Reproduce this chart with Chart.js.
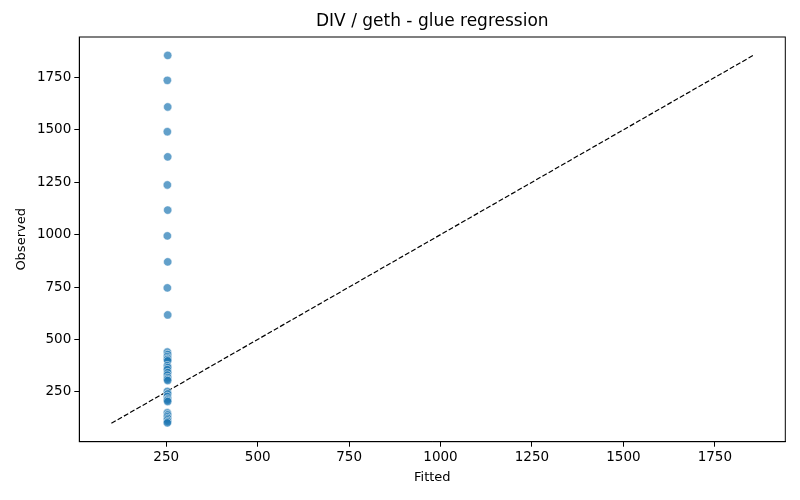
<!DOCTYPE html>
<html>
<head>
<meta charset="utf-8">
<script src="https://cdn.jsdelivr.net/npm/chart.js@4.4.0/dist/chart.umd.min.js"></script>
<style>
  html, body { margin: 0; padding: 0; background: #fff; }
  #wrap { width: 800px; height: 500px; }
</style>
</head>
<body>
<div id="wrap"><canvas id="chart" width="800" height="500"></canvas></div>
<script>
// ── Data ───────────────────────────────────────────
const chartTitle = 'DIV / geth - glue regression';
const fitted = [
  254, 253, 254, 253, 254, 253, 254, 253, 254, 253, 254,
  253, 254, 253, 254, 253, 254, 253, 254, 253, 254, 253, 254, 253, 254,
  253, 254, 253, 254, 253, 254,
  253, 254, 253, 254, 253, 254, 253
];
const observed = [
  1855, 1736, 1609, 1491, 1371, 1237, 1117, 994, 870, 746, 617,
  440, 428, 418, 410, 404, 398, 375, 366, 356, 342, 330, 318, 310, 304,
  252, 240, 228, 216, 210, 204,
  150, 140, 131, 123, 116, 108, 102
];
const identityLine = [100, 1855];
const tickVals = [250, 500, 750, 1000, 1250, 1500, 1750];
const axisMin = 12.25;
const axisMax = 1942.75;

// ── Helpers ────────────────────────────────────────
const FONT = '"DejaVu Sans", sans-serif';

const points = fitted.map((x, i) => ({ x: x, y: observed[i] }));
const linePts = identityLine.map(v => ({ x: v, y: v }));

const setTicks = (scale) => {
  scale.ticks = tickVals.map(v => ({ value: v }));
};

const frameAndTitle = {
  id: 'frameAndTitle',
  afterDraw(chart) {
    const { ctx, chartArea: a } = chart;
    ctx.save();
    ctx.strokeStyle = '#000';
    ctx.lineWidth = 1;
    ctx.strokeRect(a.left, a.top, a.right - a.left, a.bottom - a.top);
    ctx.fillStyle = '#000';
    ctx.font = '17px ' + FONT;
    ctx.textAlign = 'center';
    ctx.textBaseline = 'middle';
    ctx.fillText(chartTitle, (a.left + a.right) / 2, 22);
    ctx.restore();
  }
};

const axisCommon = {
  type: 'linear',
  min: axisMin,
  max: axisMax,
  afterBuildTicks: setTicks,
  grid: {
    display: true,
    drawOnChartArea: false,
    drawTicks: true,
    tickLength: 5,
    tickWidth: 1,
    tickColor: '#000'
  },
  border: { display: true, color: '#000', width: 1 },
  ticks: {
    color: '#000',
    font: { family: FONT, size: 13.5 },
    padding: 3,
    callback: (v) => String(v)
  }
};

// ── Chart ──────────────────────────────────────────
new Chart(document.getElementById('chart'), {
  data: {
    datasets: [
      {
        type: 'scatter',
        label: 'observations',
        data: points,
        pointRadius: 4.2,
        pointHoverRadius: 4.2,
        pointBackgroundColor: 'rgba(31, 119, 180, 0.7)',
        pointBorderColor: 'rgba(255, 255, 255, 0.7)',
        pointBorderWidth: 0.75,
        order: 1
      },
      {
        type: 'line',
        label: 'identity',
        data: linePts,
        borderColor: '#000',
        borderWidth: 1.2,
        borderDash: [5, 2.2],
        pointRadius: 0,
        fill: false,
        order: 2
      }
    ]
  },
  options: {
    responsive: false,
    animation: false,
    devicePixelRatio: 1,
    layout: { padding: { top: 37, right: 14.7, bottom: 0, left: 0 } },
    plugins: {
      legend: { display: false },
      title: { display: false },
      tooltip: { enabled: false }
    },
    scales: {
      x: {
        ...axisCommon,
        position: 'bottom',
        afterFit: (s) => { s.height = 58.3; },
        title: {
          display: true,
          text: 'Fitted',
          color: '#000',
          font: { family: FONT, size: 13 },
          padding: { top: 0, bottom: 15 }
        }
      },
      y: {
        ...axisCommon,
        position: 'left',
        afterFit: (s) => { s.width = 79.3; },
        title: {
          display: true,
          text: 'Observed',
          color: '#000',
          font: { family: FONT, size: 13 },
          padding: { top: 14, bottom: 0 }
        }
      }
    }
  },
  plugins: [frameAndTitle]
});
</script>
</body>
</html>
